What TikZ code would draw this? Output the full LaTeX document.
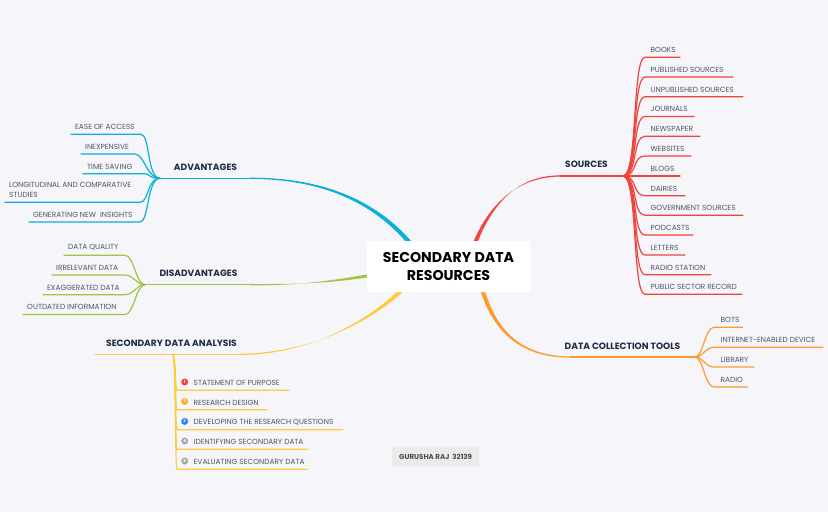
\documentclass[tikz,border=0pt]{standalone}
\usepackage{fontspec}
\setmainfont{Poppins}
\usetikzlibrary{positioning,calc,backgrounds}

\definecolor{paper}{HTML}{F6F6FA}
\definecolor{inkmain}{HTML}{1F2D44}
\definecolor{inkleaf}{HTML}{4A5568}
\definecolor{srcline}{HTML}{F0433A}
\definecolor{toolline}{HTML}{FF9A2E}
\definecolor{advline}{HTML}{0AB0D8}
\definecolor{disline}{HTML}{A0C544}
\definecolor{analine}{HTML}{FFCB3D}

% colour, start, first control, second control, end, half width at the start
\newcommand{\limb}[6]{
    \fill[#1] ($(#2)+(#6)$) .. controls ($(#3)+0.85*(#6)$) and ($(#4)+(0,-0.9)$) .. ($(#5)+(0,-0.6)$)
        -- ($(#5)+(0,0.6)$) .. controls ($(#4)+(0,0.9)$) and ($(#3)-0.85*(#6)$) .. ($(#2)-(#6)$) -- cycle;
}

\begin{document}
\begin{tikzpicture}[x=1pt,y=-1pt]
    \tikzstyle{every node}=[inner sep=0,font=\fontsize{7.4}{10.6}\selectfont,text=inkleaf]
    \tikzstyle{leaf}=[anchor=south west,align=left]
    \tikzstyle{main}=[font=\fontsize{9.1}{11}\selectfont\bfseries,text=inkmain]
    \tikzstyle{wire}=[line width=1.2pt,line cap=round]
    \tikzstyle{badge}=[circle,minimum size=7,text=white,font=\fontsize{4}{4}\selectfont\bfseries]

    \useasboundingbox (0,0) rectangle (828,512);

    \node[fill=white,rounded corners=1.5,minimum width=163,minimum height=51,align=center,
        text=black,font=\fontsize{14.2}{18.5}\selectfont\bfseries] (root) at (448.5,266.5)
        {SECONDARY DATA\\RESOURCES};

    % main titles
    \node[main] (sources) at (586.5,164.5) {SOURCES};
    \node[main] (tools) at (622.5,346) {DATA COLLECTION TOOLS};
    \node[main] (advantages) at (205.5,167) {ADVANTAGES};
    \node[main] (disadvantages) at (198.5,273.5) {DISADVANTAGES};
    \node[main] (analysis) at (171.5,343.5) {SECONDARY DATA ANALYSIS};

    \coordinate (srcroot) at ($(root)+(20,-4)$);
    \coordinate (srcbar) at (560,176);
    \coordinate (srchub) at (623,176);
    \coordinate (toolroot) at ($(root)+(30,8)$);
    \coordinate (toolbar) at (570,357);
    \coordinate (toolhub) at (695,357);
    \coordinate (advroot) at ($(root)+(-24,-4)$);
    \coordinate (advbar) at (250,178.3);
    \coordinate (advhub) at (160,178.3);
    \coordinate (disroot) at ($(root)+(-49,4)$);
    \coordinate (disbar) at (250,284.7);
    \coordinate (dishub) at (145,284.7);
    \coordinate (anaroot) at ($(root)+(-29,4)$);
    \coordinate (anabar) at (240,354.3);
    \coordinate (anahub) at (173,354.3);
    \coordinate (anaend) at (95,354.3);

    \begin{scope}[on background layer]
        \fill[paper] (0,0) rectangle (828,512);
        \limb{srcline}{srcroot}{482,215}{510,176}{srcbar}{2.2,0.6}
        \limb{toolline}{toolroot}{490,330}{520,357}{toolbar}{2.2,-0.6}
        \limb{advline}{advroot}{390,210}{335,178.3}{advbar}{1.8,-1.6}
        \limb{disline}{disroot}{330,283}{300,284.7}{disbar}{0.3,1.8}
        \limb{analine}{anaroot}{390,310}{320,354.3}{anabar}{1.8,1.6}
    \end{scope}
    \draw[wire,srcline] (srcbar) -- (srchub);
    \draw[wire,toolline] (toolbar) -- (toolhub);
    \draw[wire,advline] (advbar) -- (advhub);
    \draw[wire,disline] (disbar) -- (dishub);
    \draw[wire,analine] (anabar) -- (anaend);

    % right side
    \foreach \nm/\xe/\y/\txt in {books/680/57.3/BOOKS, published/733/77/PUBLISHED SOURCES,
        unpublished/743/96.7/UNPUBLISHED SOURCES, journals/694/116.5/JOURNALS,
        newspaper/700/136.3/NEWSPAPER, websites/691/156/WEBSITES, blogs/680/176/BLOGS,
        dairies/685/195.7/DAIRIES, government/743/215.3/GOVERNMENT SOURCES,
        podcasts/693/235/PODCASTS, letters/685/255/LETTERS, radiostation/711/274.7/RADIO STATION,
        publicsector/742/294.3/PUBLIC SECTOR RECORD}{
        \node[leaf] (\nm) at (650.5,\y-4.4) {\txt};
        \coordinate (\nm-s) at (645,\y);
        \coordinate (\nm-e) at (\xe,\y);
        \draw[wire,srcline] (srchub) .. controls +(15,0) and +(-13,0) .. (\nm-s) -- (\nm-e);
    }
    \foreach \nm/\xe/\y/\txt in {bots/742.7/327.3/BOTS, internet/823/347.3/INTERNET-ENABLED DEVICE,
        library/754/367/LIBRARY, radio/747.5/387/RADIO}{
        \node[leaf] (\nm) at (720.5,\y-4.4) {\txt};
        \coordinate (\nm-s) at (714,\y);
        \coordinate (\nm-e) at (\xe,\y);
        \draw[wire,toolline] (toolhub) .. controls +(8,0) and +(-9,0) .. (\nm-s) -- (\nm-e);
    }

    % left side
    \foreach \nm/\xs/\xe/\y/\txt in {ease/71/141/134.3/EASE OF ACCESS, inexpensive/81/135/154/INEXPENSIVE,
        timesaving/83/143/173.7/TIME SAVING,
        longitudinal/5/140/202.3/{LONGITUDINAL AND COMPARATIVE\\STUDIES},
        generating/29/140/222/GENERATING NEW\ \ INSIGHTS}{
        \node[leaf] (\nm) at (\xs+4,\y-4.4) {\txt};
        \coordinate (\nm-s) at (\xs,\y);
        \coordinate (\nm-e) at (\xe,\y);
        \draw[wire,advline] (advhub) .. controls +(-13,0) and +(9,0) .. (\nm-e) -- (\nm-s);
    }
    \foreach \nm/\xs/\xe/\y/\txt in {quality/64/125/255.3/DATA QUALITY, irrelevant/52/125/275/IRRELEVANT DATA,
        exaggerated/43/125/294.7/EXAGGERATED DATA, outdated/23/125/314.5/OUTDATED INFORMATION}{
        \node[leaf] (\nm) at (\xs+4,\y-4.4) {\txt};
        \coordinate (\nm-s) at (\xs,\y);
        \coordinate (\nm-e) at (\xe,\y);
        \draw[wire,disline] (dishub) .. controls +(-9,0) and +(9,0) .. (\nm-e) -- (\nm-s);
    }

    % numbered list
    \foreach \nm/\n/\col/\xe/\y/\txt in {purpose/1/F4433F/289/390.3/STATEMENT OF PURPOSE,
        design/2/FFAA1E/267/409.7/RESEARCH DESIGN,
        questions/3/2F7FF0/342.7/429.7/DEVELOPING THE RESEARCH QUESTIONS,
        identifying/4/A8A8A8/308/449.3/IDENTIFYING SECONDARY DATA,
        evaluating/5/A8A8A8/307.5/469.3/EVALUATING SECONDARY DATA}{
        \definecolor{badgecol}{HTML}{\col}
        \node[leaf] (\nm) at (193.5,\y-4.4) {\txt};
        \node[badge,fill=badgecol] (\nm-b) at (184.7,\y-8.3) {\n};
        \coordinate (\nm-s) at (177,\y);
        \coordinate (\nm-e) at (\xe,\y);
        \draw[wire,analine] (anahub) .. controls +(3,6) and +(-2,-1) .. (\nm-s) -- (\nm-e);
    }

    \node[fill=black!8,rounded corners=2,minimum width=87,minimum height=19.5,text=black!70,
        font=\fontsize{7.1}{9}\selectfont\bfseries] (author) at (435.6,456.4) {GURUSHA RAJ\ \ 32139};
\end{tikzpicture}
\end{document}
